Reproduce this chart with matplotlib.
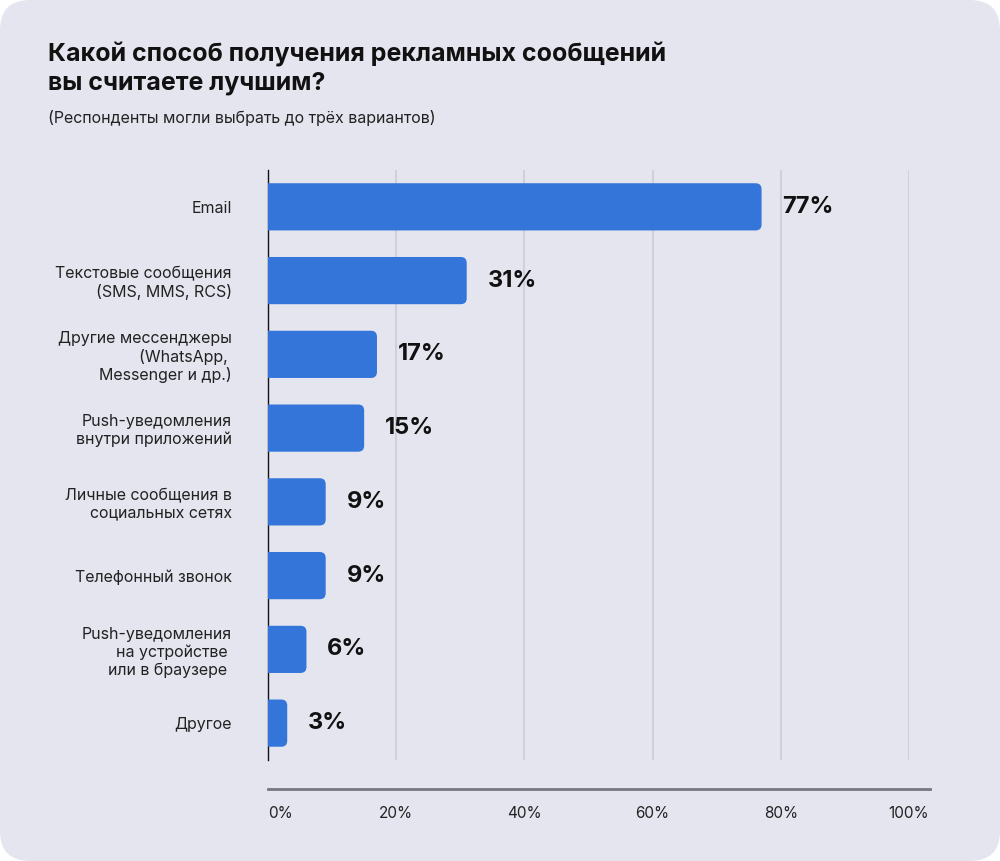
import matplotlib
matplotlib.use("Agg")
import matplotlib.pyplot as plt
from matplotlib.patches import FancyBboxPatch
from matplotlib.lines import Line2D

plt.rcParams['font.family'] = ['Inter', 'DejaVu Sans']

categories = [
    "Email",
    "Текстовые сообщения\n(SMS, MMS, RCS)",
    "Другие мессенджеры\n(WhatsApp, \nMessenger и др.)",
    "Push-уведомления\nвнутри приложений",
    "Личные сообщения в\nсоциальных сетях",
    "Телефонный звонок",
    "Push-уведомления\nна устройстве \nили в браузере ",
    "Другое",
]
values = [77, 31, 17, 15, 9, 9, 6, 3]
ticks = [0, 20, 40, 60, 80, 100]
tick_labels = ["0%", "20%", "40%", "60%", "80%", "100%"]

bg = "#e5e5f0"
bar_color = "#3475d9"
grid_color = "#cfd0dc"
text_color = "#111111"

fig = plt.figure(figsize=(10, 8.61), dpi=100)
fig.patch.set_facecolor("white")

# rounded card behind everything
card = FancyBboxPatch((0, 0), 10, 8.61, boxstyle="round,pad=0,rounding_size=0.3",
                      transform=fig.dpi_scale_trans, facecolor=bg, edgecolor="none",
                      zorder=-10)
fig.patches.append(card)

ax = fig.add_axes([0.268, 0.1173, 0.641, 0.6853])
ax.set_facecolor("none")
ax.set_xlim(0, 100)
ax.set_ylim(len(categories) - 0.5, -0.5)

# bars with rounded right end (left end clipped at the axis)
bar_h = 0.64
x_per_px = 100 / 641
y_per_px = 8 / 590
for i, v in enumerate(values):
    p = FancyBboxPatch((-2, i - bar_h / 2), v + 2, bar_h,
                       boxstyle="round,pad=0,rounding_size=%f" % (6 * x_per_px),
                       mutation_aspect=y_per_px / x_per_px,
                       facecolor=bar_color, edgecolor="none", zorder=3, clip_on=True)
    ax.add_patch(p)
    ax.annotate(f"{v}%", xy=(v, i), xytext=(15, 0), textcoords="offset points",
                ha="left", va="center", fontsize=17, fontweight="bold",
                color=text_color, zorder=4)

for t in ticks[1:]:
    ax.axvline(t, color=grid_color, lw=1.5, zorder=1)

for s in ["top", "right", "bottom"]:
    ax.spines[s].set_visible(False)
ax.spines["left"].set_color("#111111")
ax.spines["left"].set_linewidth(1.0)

ax.set_yticks(range(len(categories)))
ax.set_yticklabels(categories, fontsize=11.5, color="#222222")
ax.tick_params(axis="y", length=0, pad=26)

ax.set_xticks(ticks)
ax.set_xticklabels(tick_labels, fontsize=11, color="#222222")
ax.tick_params(axis="x", length=0, pad=33)
ax.get_xticklabels()[0].set_ha("left")

# separate baseline below the plot
fig.add_artist(Line2D([268 / 1000, 930 / 1000], [1 - 789 / 861, 1 - 789 / 861],
                      transform=fig.transFigure, color="#77777f", lw=2))

fig.text(0.048, 1 - 42 / 861,
         "Какой способ получения рекламных сообщений\nвы считаете лучшим?",
         ha="left", va="top", fontsize=18, fontweight="bold", color=text_color,
         linespacing=1.25)
fig.text(0.048, 1 - 118 / 861, "(Респонденты могли выбрать до трёх вариантов)",
         ha="left", va="center", fontsize=11.5, color="#222222")

fig.savefig("out.png", dpi=100, facecolor=fig.get_facecolor())
